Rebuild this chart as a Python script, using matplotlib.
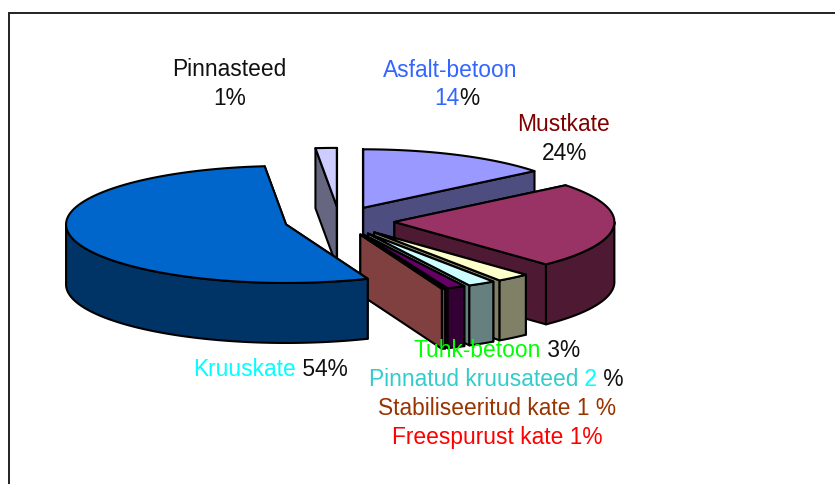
import numpy as np
import matplotlib
matplotlib.use("Agg")
import matplotlib.pyplot as plt
from matplotlib.patches import Polygon

plt.rcParams['font.family'] = ['Liberation Sans', 'DejaVu Sans']

# Data: clockwise from 12 o'clock
categories = ["Asfalt-betoon", "Mustkate", "Tuhk-betoon", "Pinnatud kruusateed",
              "Stabiliseeritud kate", "Freespurust kate", "Kruuskate", "Pinnasteed"]
shares = [14.2, 23.7, 2.45, 2.02, 1.33, 0.25, 54.5, 1.55]
top_colors = ["#9999FF", "#993366", "#FFFFCC", "#CCFFFF", "#660066", "#FF8080", "#0066CC", "#CCCCFF"]
side_colors = ["#4D4D80", "#4D1933", "#808066", "#668080", "#330033", "#804040", "#003366", "#666680"]
draw_order = [7, 0, 1, 2, 3, 4, 5, 6]

# Geometry of the projected pie (pixels)
CX, CY, RX, RY, DEPTH, EXPLODE = 339.5, 222.0, 220.0, 58.5, 60.0, 0.25
LW = 1.5

fig = plt.figure(figsize=(8.35, 4.85), dpi=100)
ax = fig.add_axes([0, 0, 1, 1])
ax.set_xlim(0, 835)
ax.set_ylim(485, 0)
ax.axis("off")

# Outer frame (cut by the image on the right and bottom)
ax.plot([8.5, 8.5, 840], [490, 13.5, 13.5], color="#222222", lw=1.4, solid_joinstyle="miter", zorder=1)

edges = 90 - np.concatenate([[0], np.cumsum(shares)]) * 3.6
z = 2


def pt(ax0, ay0, t):
    t = np.radians(t)
    return ax0 + RX * np.cos(t), ay0 - RY * np.sin(t)


def poly(points, color):
    global z
    ax.add_patch(Polygon(points, closed=True, facecolor=color, edgecolor="black",
                         lw=LW, joinstyle="round", zorder=z))
    z += 1


for i in draw_order:
    t1, t2 = edges[i], edges[i + 1]
    mid = np.radians((t1 + t2) / 2)
    ox = CX + EXPLODE * RX * np.cos(mid)
    oy = CY - EXPLODE * RY * np.sin(mid)
    # Radial cut faces
    for t in (t1, t2):
        x, y = pt(ox, oy, t)
        poly([(ox, oy), (x, y), (x, y + DEPTH), (ox, oy + DEPTH)], side_colors[i])
    # Outer wall: only the part of the arc that faces the viewer
    tt = np.linspace(t1, t2, 240)
    tt = tt[np.sin(np.radians(tt)) <= 0]
    if tt.size > 1:
        xs, ys = pt(ox, oy, tt)
        wall = list(zip(xs, ys)) + list(zip(xs[::-1], ys[::-1] + DEPTH))
        poly(wall, side_colors[i])
    # Top face
    tt = np.linspace(t1, t2, 240)
    xs, ys = pt(ox, oy, tt)
    poly([(ox, oy)] + list(zip(xs, ys)), top_colors[i])

# Labels: (center x, baseline y, [(text, colour), ...])
BLACK = "#111111"
labels = [
    (229, 76, [("Pinnasteed", BLACK)]),
    (230, 105, [("1%", BLACK)]),
    (450, 77, [("Asfalt-betoon", "#3366FF")]),
    (457, 105, [("14", "#3366FF"), ("%", BLACK)]),
    (563.5, 131, [("Mustkate", "#800000")]),
    (565, 160, [("24%", BLACK)]),
    (270.5, 376, [("Kruuskate", "#00FFFF"), (" 54%", BLACK)]),
    (497, 357, [("Tuhk-betoon", "#00FF00"), (" 3%", BLACK)]),
    (496.5, 386, [("Pinnatud kruusateed", "#33CCCC"), (" 2", "#00FFFF"), (" %", BLACK)]),
    (497, 415, [("Stabiliseeritud kate 1 %", "#993300")]),
    (497.5, 444, [("Freespurust kate 1%", "#FF0000")]),
]
FS = 16.4
renderer = fig.canvas.get_renderer()
for cx, y, parts in labels:
    full = "".join(p[0] for p in parts)
    probe = ax.text(0, 0, full, fontsize=FS)
    total = probe.get_window_extent(renderer).width
    probe.remove()
    x = cx - total / 2
    done = ""
    pw = 0
    for s, c in parts:
        probe = ax.text(0, 0, (done + s).replace(" ", "\u00a0"), fontsize=FS)
        w = probe.get_window_extent(renderer).width
        probe.remove()
        ax.text(x + pw, y, s.replace(" ", "\u00a0"), color=c, fontsize=FS,
                ha="left", va="baseline", zorder=100)
        pw = w
        done += s

fig.savefig("out.png", dpi=100)
